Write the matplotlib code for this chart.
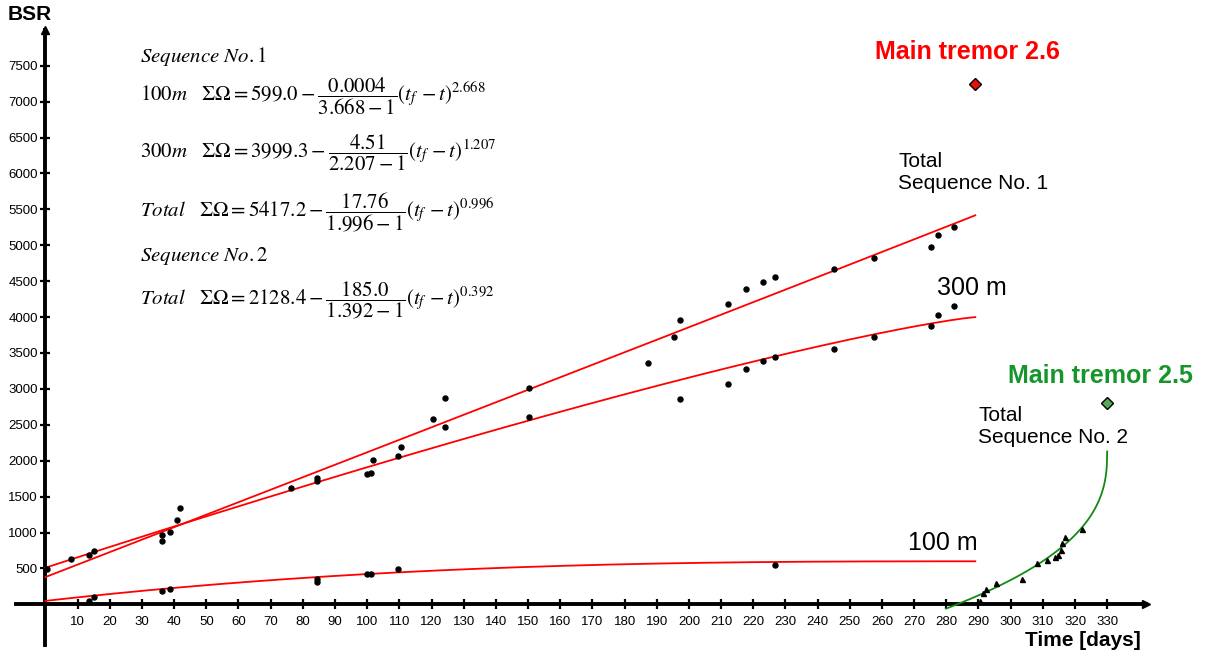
import numpy as np
import matplotlib.pyplot as plt

plt.rcParams['font.family'] = ['Liberation Sans', 'DejaVu Sans']
plt.rcParams['mathtext.fontset'] = 'stix'

# observed BSR values, sequence No. 1
seq1_total_t = [0.4, 36.2, 41.0, 41.7, 76.2, 84.5, 101.8, 110.5, 120.5, 124.1,
                150.3, 187.2, 195.4, 197.3, 212.2, 217.8, 223.0, 226.8, 245.0,
                257.5, 275.3, 277.3, 282.5]
seq1_total_v = [492, 970, 1170, 1337, 1616, 1755, 2005, 2191, 2585, 2873,
                3008, 3365, 3719, 3960, 4183, 4387, 4489, 4554, 4666,
                4823, 4981, 5139, 5259]
seq1_300_t = [7.8, 13.6, 15.1, 36.1, 38.8, 84.5, 99.9, 101.2, 109.7, 124.1,
              150.3, 197.3, 212.2, 217.8, 223.0, 226.8, 245.0, 257.5, 275.3,
              277.3, 282.5]
seq1_300_v = [627, 691, 742, 886, 1003, 1713, 1819, 1829, 2070, 2474,
              2613, 2855, 3068, 3281, 3384, 3440, 3552, 3723, 3876,
              4033, 4155]
seq1_100_t = [13.6, 15.1, 36.1, 38.8, 84.5, 84.5, 99.9, 101.2, 109.7, 226.8]
seq1_100_v = [50, 102, 185, 213, 315, 347, 418, 427, 488, 549]

# sequence No. 2
seq2_t = [290.5, 291.3, 292.2, 295.4, 303.6, 308.1, 311.4, 313.8, 314.7,
          315.5, 315.9, 317.0, 322.3]
seq2_v = [46, 162, 209, 301, 357, 580, 617, 663, 691, 760, 854, 942, 1053]

# main tremors (t, BSR)
main_26 = (289, 7250)
main_25 = (330, 2800)

# fitted parameters: A, B, exponent  ->  A - B/exp * (tf - t)^exp
tf1 = 289
fit_100m = (599.0, 0.0004, 2.668)
fit_300m = (3999.3, 4.51, 1.207)
fit_total1 = (5417.2, 17.76, 0.996)
tf2 = 330
t2_start = 280
fit_total2 = (2128.4, 185.0, 0.392)


def fit_curve(params, tf, t):
    A, B, m = params
    return A - B / m * (tf - t) ** m


fig = plt.figure(figsize=(12.13, 6.56), dpi=100)
ax = fig.add_axes([0.0136, 0.0175, 0.931, 0.937])
ax.set_xlim(-9, 342)
ax.set_ylim(-560, 8000)

# fitted curves
t1 = np.linspace(0, tf1, 300)
for p in (fit_100m, fit_300m, fit_total1):
    ax.plot(t1, fit_curve(p, tf1, t1), color='#ff0000', lw=1.3, zorder=3)
t2 = np.linspace(t2_start, tf2, 400)
ax.plot(t2, fit_curve(fit_total2, tf2, t2), color='#138a13', lw=1.3, zorder=3)

# observations
ms = 3.6
ax.plot(seq1_total_t, seq1_total_v, 'o', color='black', ms=ms, zorder=4)
ax.plot(seq1_300_t, seq1_300_v, 'o', color='black', ms=ms, zorder=4)
ax.plot(seq1_100_t, seq1_100_v, 'o', color='black', ms=ms, zorder=4)
ax.plot(seq2_t, seq2_v, '^', color='black', ms=3.6, zorder=4)

ax.plot(*main_26, 'D', mfc='#e8100c', mec='black', mew=1, ms=6, zorder=5)
ax.plot(*main_25, 'D', mfc='#5aa85a', mec='black', mew=1, ms=6, zorder=5)

# axes through the origin with arrows
for s in ['top', 'right']:
    ax.spines[s].set_visible(False)
ax.spines['left'].set_position(('data', 0))
ax.spines['bottom'].set_position(('data', 0))
ax.spines['left'].set_linewidth(2.8)
ax.spines['bottom'].set_linewidth(2.8)
ax.plot(1, 0, '>', color='black', ms=6, transform=ax.get_yaxis_transform(), clip_on=False)
ax.plot(0, 1, '^', color='black', ms=6, transform=ax.get_xaxis_transform(), clip_on=False)

ax.set_xticks(np.arange(10, 331, 10))
ax.set_yticks(np.arange(500, 7501, 500))
ax.tick_params(direction='inout', length=7, width=1.6, labelsize=9.5, pad=2)
ax.tick_params(axis='x', pad=5)

fig.text(8 / 1213, 1 - 15 / 656, 'BSR', fontsize=15, fontweight='bold', va='center')
fig.text(1025 / 1213, 1 - 640 / 656, 'Time [days]', fontsize=15, fontweight='bold', va='center')

# equations
eq_size = 15
ax.text(29.4, 7623, r'$Sequence\ No.1$', fontsize=eq_size, va='center')
ax.text(29.4, 7080, r'$100m\quad \Sigma\Omega = 599.0 - \dfrac{0.0004}{3.668-1}(t_f\,-t)^{2.668}$',
        fontsize=eq_size, va='center')
ax.text(29.4, 6285, r'$300m\quad \Sigma\Omega = 3999.3 - \dfrac{4.51}{2.207-1}(t_f\,-t)^{1.207}$',
        fontsize=eq_size, va='center')
ax.text(29.4, 5464, r'$Total\quad \Sigma\Omega = 5417.2 - \dfrac{17.76}{1.996-1}(t_f\,-t)^{0.996}$',
        fontsize=eq_size, va='center')
ax.text(29.4, 4851, r'$Sequence\ No.2$', fontsize=eq_size, va='center')
ax.text(29.4, 4238, r'$Total\quad \Sigma\Omega = 2128.4 - \dfrac{185.0}{1.392-1}(t_f\,-t)^{0.392}$',
        fontsize=eq_size, va='center')

# curve labels
ax.text(257.8, 7692, 'Main tremor 2.6', color='#ff0000', fontsize=18, fontweight='bold', va='center')
ax.text(299.2, 3180, 'Main tremor 2.5', color='#16962a', fontsize=18, fontweight='bold', va='center')
ax.text(265, 6020, 'Total\nSequence No. 1', fontsize=15, va='center', linespacing=1.2)
ax.text(289.9, 2483, 'Total\nSequence No. 2', fontsize=15, va='center', linespacing=1.2)
ax.text(277, 4406, '300 m', fontsize=18, va='center')
ax.text(268, 853, '100 m', fontsize=18, va='center')

fig.savefig('out.png', dpi=100)
